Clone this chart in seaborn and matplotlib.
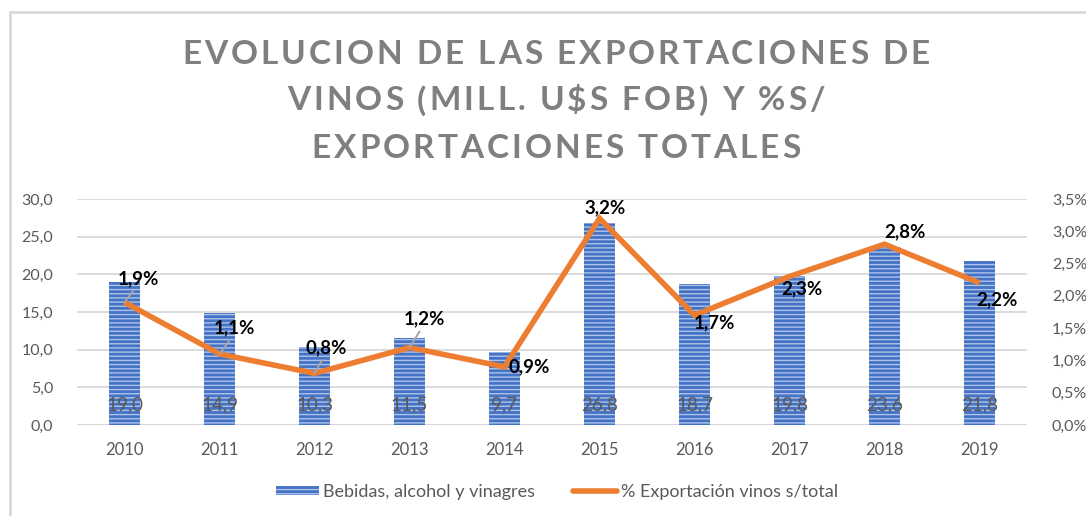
import numpy as np
import pandas as pd
import matplotlib
matplotlib.use("Agg")
import matplotlib.pyplot as plt
import seaborn as sns
from matplotlib.patches import Patch
from matplotlib.lines import Line2D
from matplotlib.ticker import FuncFormatter, MultipleLocator
from matplotlib.font_manager import FontProperties

years = ["2010", "2011", "2012", "2013", "2014", "2015", "2016", "2017", "2018", "2019"]
bebidas = [19.0, 14.9, 10.3, 11.5, 9.7, 26.8, 18.7, 19.8, 23.6, 21.8]
pct_vinos = [1.9, 1.1, 0.8, 1.2, 0.9, 3.2, 1.7, 2.3, 2.8, 2.2]
title_lines = ["EVOLUCION DE LAS EXPORTACIONES DE",
               "VINOS (MILL. U$S FOB) Y %S/",
               "EXPORTACIONES TOTALES"]
legend_labels = ["Bebidas, alcohol y vinagres", "% Exportación vinos s/total"]

BLUE = "#4472C4"
STRIPE = "#AFC3E8"
ORANGE = "#ED7D31"
GRAY_TXT = "#595959"
GRID = "#D9D9D9"

sns.set_theme(style="white")
plt.rcParams["font.family"] = ["Lato", "DejaVu Sans"]
plt.rcParams["hatch.linewidth"] = 1.0
plt.rcParams["hatch.color"] = STRIPE

fig = plt.figure(figsize=(10.86, 5.16), dpi=100)
W, H = 1086, 516
ax1 = fig.add_axes([77 / W, 1 - 425 / H, 950 / W, 226 / H])
ax2 = ax1.twinx()

df = pd.DataFrame({"year": years, "bebidas": bebidas, "pct": pct_vinos})
df["pos"] = np.arange(len(df))

sns.barplot(data=df, x="year", y="bebidas", ax=ax1, color=BLUE, saturation=1,
            width=0.32, errorbar=None)
for p in ax1.patches:
    p.set_hatch("----")
    p.set_edgecolor(STRIPE)
    p.set_linewidth(0)

sns.lineplot(data=df, x="pos", y="pct", ax=ax2, color=ORANGE, linewidth=4,
             solid_joinstyle="miter", solid_capstyle="butt")

ax1.set_xlim(-0.5, len(years) - 0.5)
ax1.set_ylim(0, 30)
ax2.set_ylim(0, 3.5)
ax1.yaxis.set_major_locator(MultipleLocator(5))
ax2.yaxis.set_major_locator(MultipleLocator(0.5))
ax1.yaxis.set_major_formatter(FuncFormatter(lambda v, _: f"{v:.1f}".replace(".", ",")))
ax2.yaxis.set_major_formatter(FuncFormatter(lambda v, _: f"{v:.1f}%".replace(".", ",")))
for ax in (ax1, ax2):
    ax.set_xlabel("")
    ax.set_ylabel("")
    for s in ("top", "left", "right", "bottom"):
        ax.spines[s].set_visible(False)
ax1.set_axisbelow(True)
ax1.grid(axis="y", color=GRID, linewidth=1.3)
ax1.axhline(0, color="#BFBFBF", linewidth=2, zorder=0.5)
ax1.tick_params(axis="y", length=0, pad=17, labelsize=11.5, labelcolor=GRAY_TXT)
ax2.tick_params(axis="y", length=0, pad=18, labelsize=11.5, labelcolor=GRAY_TXT)
ax1.tick_params(axis="x", length=0, pad=12, labelsize=12, labelcolor=GRAY_TXT)
ax2.set_zorder(ax1.get_zorder() + 1)
ax2.patch.set_visible(False)

# bar value labels near the bottom of bars
for i, v in enumerate(bebidas):
    ax1.annotate(f"{v:.1f}".replace(".", ","), xy=(i, 0), xytext=(0, 20),
                 textcoords="offset pixels", ha="center", va="center",
                 fontsize=13.5, color=GRAY_TXT)

# percent labels
offsets = [(14, 24), (15, 26), (12, 26), (15, 29), (25, 0),
           (6, 11), (20, -8), (12, -12), (20, 12), (17, -17)]
leader = [True, True, True, True, False, False, False, False, False, False]
for i, (v, off, ld) in enumerate(zip(pct_vinos, offsets, leader)):
    kw = {}
    if ld:
        kw["arrowprops"] = dict(arrowstyle="-", color="#A6A6A6", lw=1.4,
                                relpos=(0.45, 0.0), shrinkA=1, shrinkB=0)
    ax2.annotate(f"{v:.1f}%".replace(".", ","), xy=(i, v), xytext=off,
                 textcoords="offset pixels", ha="center", va="center",
                 fontsize=13.5, fontweight="bold", color="black", zorder=5, **kw)

# title with letter spacing
renderer = fig.canvas.get_renderer()
tprop = FontProperties(family=["Lato", "DejaVu Sans"], weight="bold", size=24)
spacing = 3.0
centers_y = [54, 101, 148]
def text_w(s):
    w, _, _ = renderer.get_text_width_height_descent(s, tprop, ismath=False)
    return w
xw = text_w("X")
for line, cy in zip(title_lines, centers_y):
    n = len(line)
    prefix = [text_w(line[:k] + "X") - xw if k > 0 else 0.0 for k in range(n)]
    total = text_w(line) + (n - 1) * spacing
    x0 = 556 - total / 2
    for k, ch in enumerate(line):
        if ch == " ":
            continue
        x = x0 + prefix[k] + k * spacing
        fig.text(x / W, 1 - cy / H, ch, fontproperties=tprop, color="#7F7F7F",
                 ha="left", va="center")

# legend
handles = [Patch(facecolor=BLUE, hatch="----", edgecolor=STRIPE, linewidth=0),
           Line2D([0], [0], color=ORANGE, linewidth=4)]
fig.legend(handles, legend_labels, loc="center", bbox_to_anchor=(557 / W, 1 - 492 / H),
           ncol=2, frameon=False, fontsize=13, labelcolor=GRAY_TXT,
           handlelength=2.4, handleheight=0.45, handletextpad=0.25, columnspacing=2.1)

# chart border
fig.add_artist(Line2D([10 / W, 1.0], [1 - 12 / H, 1 - 12 / H], color=GRID, lw=2,
                      transform=fig.transFigure))
fig.add_artist(Line2D([10 / W, 10 / W], [1 - 12 / H, 0], color=GRID, lw=2,
                      transform=fig.transFigure))

fig.savefig("out.png", dpi=100)
